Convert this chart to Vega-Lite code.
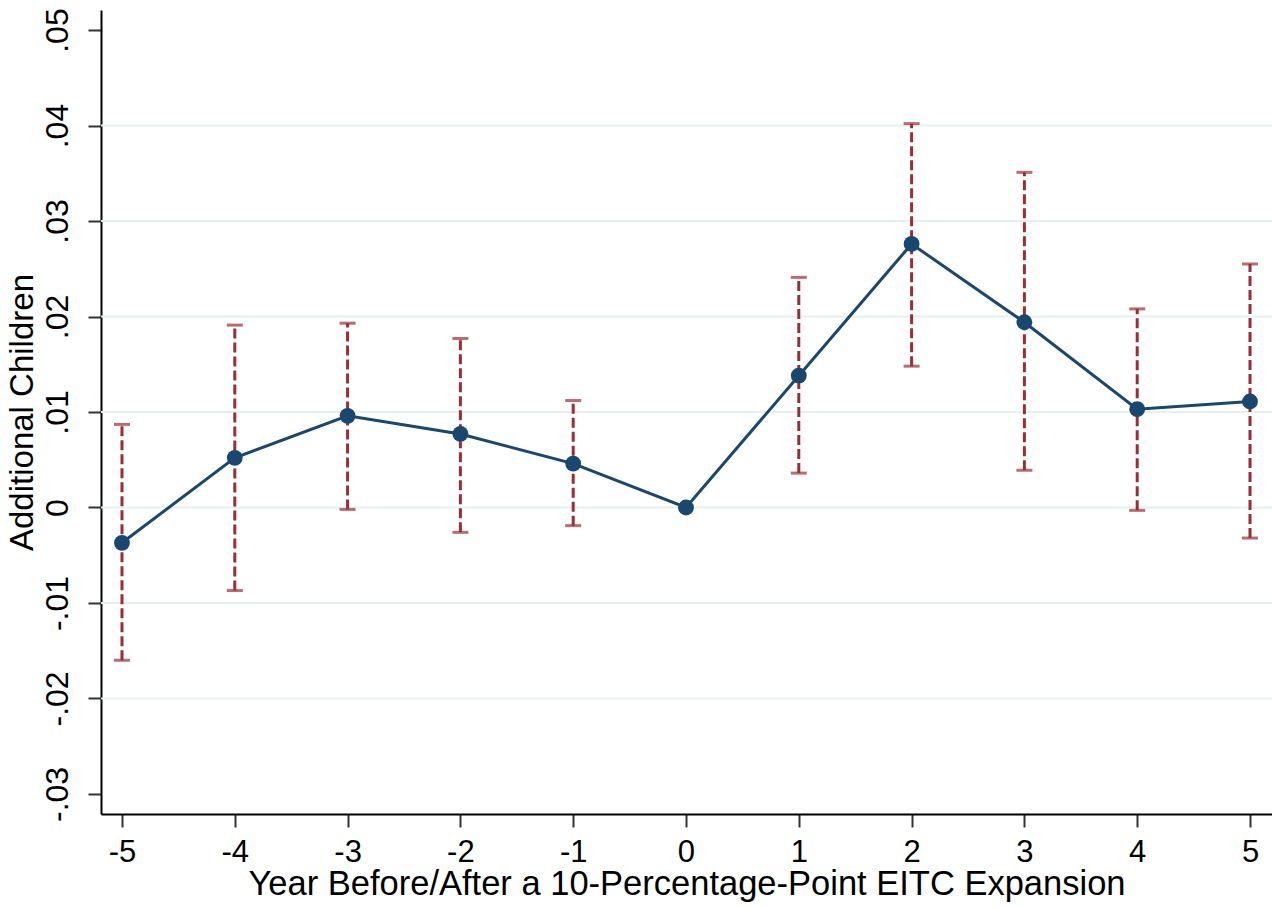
{
  "$schema": "https://vega.github.io/schema/vega-lite/v6.json",
  "width": 1171,
  "height": 804,
  "autosize": {"type": "none"},
  "padding": {"left": 101, "top": 10, "right": 0, "bottom": 93},
  "background": "white",
  "config": {
    "view": {"stroke": null},
    "font": "Liberation Sans",
    "axis": {"labelFont": "Liberation Sans", "titleFont": "Liberation Sans", "labelColor": "black", "titleColor": "black", "titleFontWeight": "normal"}
  },
  "data": {
    "values": [
      {"year": -5, "est": -0.0037, "lo": -0.0160, "hi": 0.0087},
      {"year": -4, "est": 0.0052, "lo": -0.0087, "hi": 0.0191},
      {"year": -3, "est": 0.0096, "lo": -0.0002, "hi": 0.0193},
      {"year": -2, "est": 0.0077, "lo": -0.0026, "hi": 0.0177},
      {"year": -1, "est": 0.0046, "lo": -0.0019, "hi": 0.0112},
      {"year": 0, "est": 0.0000, "lo": null, "hi": null},
      {"year": 1, "est": 0.0138, "lo": 0.0036, "hi": 0.0241},
      {"year": 2, "est": 0.0276, "lo": 0.0148, "hi": 0.0402},
      {"year": 3, "est": 0.0194, "lo": 0.0039, "hi": 0.0351},
      {"year": 4, "est": 0.0103, "lo": -0.0003, "hi": 0.0208},
      {"year": 5, "est": 0.0111, "lo": -0.0032, "hi": 0.0255}
    ]
  },
  "encoding": {
    "x": {
      "field": "year", "type": "quantitative",
      "scale": {"domain": [-5.186, 5.195], "nice": false, "zero": false},
      "axis": {
        "values": [-5, -4, -3, -2, -1, 0, 1, 2, 3, 4, 5],
        "labelExpr": "(datum.value < 0 ? '-' : '') + abs(datum.value)",
        "title": "Year Before/After a 10-Percentage-Point EITC Expansion",
        "titleFontSize": 34.5, "titlePadding": 0,
        "labelFontSize": 31, "labelPadding": 10, "labelBaseline": "top", "labelLineHeight": 26,
        "tickSize": 13, "tickWidth": 2, "tickColor": "#333333",
        "domainColor": "black", "domainWidth": 2,
        "grid": false, "labelFlush": false
      }
    }
  },
  "layer": [
    {
      "mark": {"type": "rule", "color": "#e6eff1", "strokeWidth": 2},
      "data": {"values": [{"g": -0.02}, {"g": -0.01}, {"g": 0}, {"g": 0.01}, {"g": 0.02}, {"g": 0.03}, {"g": 0.04}]},
      "encoding": {
        "x": null,
        "y": {"field": "g", "type": "quantitative", "scale": {"domain": [-0.0321, 0.0521], "nice": false, "zero": false},
          "axis": {
            "values": [-0.03, -0.02, -0.01, 0, 0.01, 0.02, 0.03, 0.04, 0.05],
            "labelExpr": "datum.value == 0 ? '0' : (datum.value < 0 ? '-' : '') + replace(format(abs(datum.value), '.2f'), '0.', '.')",
            "title": "Additional Children",
            "titleFontSize": 33, "titlePadding": 2,
            "labelFontSize": 32, "labelAngle": -90, "labelAlign": "center", "labelBaseline": "bottom", "labelPadding": 14,
            "tickSize": 13, "tickWidth": 2, "tickColor": "#333333",
            "domainColor": "black", "domainWidth": 2, "grid": false
          }
        }
      }
    },
    {
      "mark": {"type": "rule", "color": "#9b2d36", "strokeWidth": 3, "strokeDash": [10, 4]},
      "transform": [{"filter": "datum.lo != null"}],
      "encoding": {
        "y": {"field": "lo", "type": "quantitative"},
        "y2": {"field": "hi"}
      }
    },
    {
      "mark": {"type": "tick", "color": "#9b2d36", "orient": "horizontal", "size": 16, "thickness": 3},
      "transform": [{"filter": "datum.lo != null"}],
      "encoding": {"y": {"field": "lo", "type": "quantitative"}}
    },
    {
      "mark": {"type": "tick", "color": "#9b2d36", "orient": "horizontal", "size": 16, "thickness": 3},
      "transform": [{"filter": "datum.hi != null"}],
      "encoding": {"y": {"field": "hi", "type": "quantitative"}}
    },
    {
      "mark": {"type": "line", "color": "#1a476f", "strokeWidth": 3},
      "encoding": {"y": {"field": "est", "type": "quantitative"}}
    },
    {
      "mark": {"type": "point", "filled": true, "color": "#1a476f", "size": 250, "opacity": 1},
      "encoding": {"y": {"field": "est", "type": "quantitative"}}
    }
  ]
}
